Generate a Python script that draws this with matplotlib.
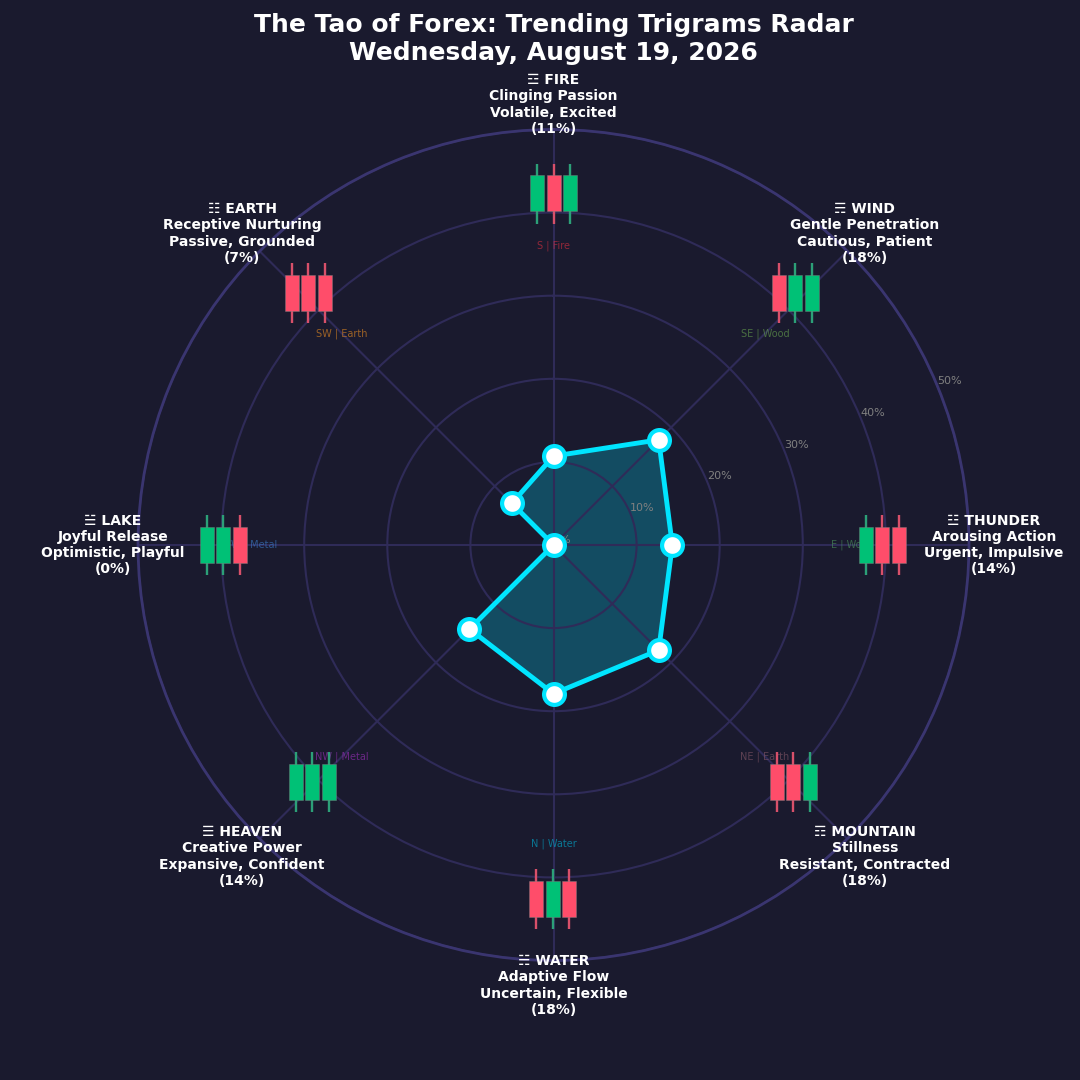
import numpy as np
import matplotlib
matplotlib.use("Agg")
import matplotlib.pyplot as plt

# ---- data ----
names = ["FIRE", "WIND", "THUNDER", "MOUNTAIN", "WATER", "HEAVEN", "LAKE", "EARTH"]
glyphs = ["☲", "☴", "☳", "☶", "☵", "☰", "☱", "☷"]
meanings = ["Clinging Passion", "Gentle Penetration", "Arousing Action", "Stillness",
            "Adaptive Flow", "Creative Power", "Joyful Release", "Receptive Nurturing"]
moods = ["Volatile, Excited", "Cautious, Patient", "Urgent, Impulsive", "Resistant, Contracted",
         "Uncertain, Flexible", "Expansive, Confident", "Optimistic, Playful", "Passive, Grounded"]
percent = [10.7, 17.9, 14.3, 17.9, 17.9, 14.3, 0.0, 7.1]
percent_labels = ["11", "18", "14", "18", "18", "14", "0", "7"]
sectors = ["S | Fire", "SE | Wood", "E | Wood", "NE | Earth", "N | Water", "NW | Metal", "W | Metal", "SW | Earth"]
sector_colors = ["#e03040", "#6aa84f", "#4f9a5f", "#8a5a6a", "#00b4d8", "#a030c0", "#3a80d0", "#f09020"]
bullish = [[1, 0, 1], [0, 1, 1], [1, 0, 0], [0, 0, 1], [0, 1, 0], [1, 1, 1], [1, 1, 0], [0, 0, 0]]
candle_low = [0, 0, 0]
candle_body_low = [1.04, 1.04, 1.04]
candle_body_high = [4.04, 4.04, 4.04]
candle_high = [5, 5, 5]
r_ticks = [10, 20, 30, 40, 50]

# ---- layout (pixels of the 1080 canvas) ----
W = 1080
candle_cx = [553.7, 795.2, 882.2, 793.2, 552.7, 312.2, 223.2, 308.2]
candle_cy = [193.7, 293.2, 545.2, 782.2, 899.2, 782.2, 545.2, 293.2]

BG = "#1a1a2e"
GRID = "#2f2b58"
CYAN = "#00e5ff"
GREEN = "#00c176"
RED = "#ff4d6a"
GREEN_WICK = "#2ca078"
RED_WICK = "#d8506a"

fig = plt.figure(figsize=(10.8, 10.8), dpi=100, facecolor=BG)
ax = fig.add_axes([138 / W, 119.5 / W, 831 / W, 831 / W], projection="polar", facecolor=BG)
ax.set_theta_zero_location("N")
ax.set_theta_direction(-1)

theta = np.deg2rad(np.arange(0, 360, 45))
ax.set_ylim(0, 50)
ax.set_xticks(theta)
ax.set_xticklabels([])
ax.set_yticks(r_ticks)
ax.set_yticklabels([f"{t}%" for t in r_ticks], color="#808080", fontsize=8)
ax.text(np.deg2rad(67.5), 0, "0%", color="#808080", fontsize=8, zorder=1.5,
        ha="left", va="bottom")
ax.set_rlabel_position(67.5)
ax.grid(True, color=GRID, linewidth=1.5)
ax.spines["polar"].set_color("#3a3570")
ax.spines["polar"].set_linewidth(2)

t_closed = np.append(theta, theta[0])
v_closed = np.append(percent, percent[0])
ax.fill(t_closed, v_closed, color=CYAN, alpha=0.25, linewidth=0, zorder=1)
ax.plot(t_closed, v_closed, color=CYAN, linewidth=3.5, zorder=3, clip_on=False)
ax.plot(theta, percent, linestyle="none", marker="o", markersize=15,
        markerfacecolor="white", markeredgecolor=CYAN, markeredgewidth=3, zorder=4)

for th, name, gl, me, mo, pc, sec, sc in zip(theta, names, glyphs, meanings, moods,
                                              percent_labels, sectors, sector_colors):
    ax.text(th, 53, f"{gl} {name}\n{me}\n{mo}\n({pc}%)", color="white", fontsize=10,
            fontweight="bold", ha="center", va="center", clip_on=False, zorder=5)
    ax.text(th, 36, sec, color=sc, alpha=0.6, fontsize=7, ha="center", va="center", zorder=1.8)

fig.suptitle("The Tao of Forex: Trending Trigrams Radar\nWednesday, August 19, 2026",
             x=553.7 / W, y=1 - 39 / W, color="white", fontsize=18, fontweight="bold",
             ha="center", va="center")

# candlestick trios
bw, bh = 60, 60
for cx, cy, pattern in zip(candle_cx, candle_cy, bullish):
    cax = fig.add_axes([(cx - bw / 2) / W, 1 - (cy + bh / 2) / W, bw / W, bh / W])
    cax.patch.set_alpha(0)
    cax.axis("off")
    cax.set_xlim(-1.8, 1.8)
    cax.set_ylim(0, 5)
    xs = [-1, 0, 1]
    cols = [GREEN if b else RED for b in pattern]
    wicks = [GREEN_WICK if b else RED_WICK for b in pattern]
    cax.vlines(xs, candle_low, candle_high, colors=wicks, linewidth=1.7, zorder=1)
    heights = np.subtract(candle_body_high, candle_body_low)
    cax.bar(xs, heights, bottom=candle_body_low, width=0.84, color=cols,
            edgecolor=(0.5, 0.5, 0.5, 0.6), linewidth=0.5, zorder=2)

fig.savefig("out.png", dpi=100, facecolor=BG)
